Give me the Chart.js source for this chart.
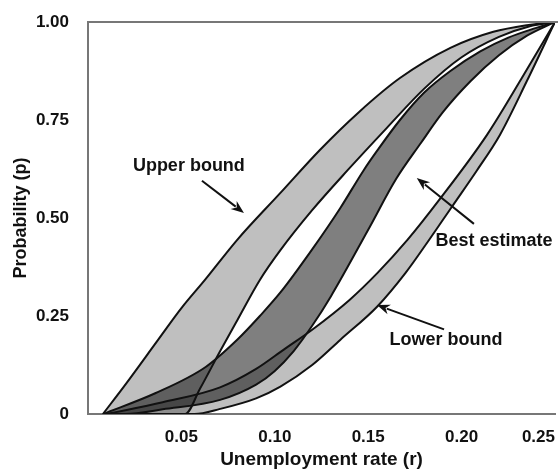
<!DOCTYPE html>
<html lang="en">
<head>
  <meta charset="UTF-8" />
  <title>Probability vs unemployment rate</title>
  <script src="https://cdn.jsdelivr.net/npm/chart.js"></script>
  <style>
    body { margin: 0; background: #fff; }
    canvas { display: block; }
  </style>
</head>
<body>
  <canvas id="chart" width="558" height="472"></canvas>

  <script>
  // each curve as [r, p] pairs
  const upperBoundLeft = [[0.008,0],[0.02,0.075],[0.0375,0.189],[0.05,0.27],[0.0626,0.342],[0.08,0.445],[0.103,0.564],[0.124,0.673],[0.145,0.77],[0.167,0.857],[0.194,0.934],[0.217,0.975],[0.235,0.992],[0.25,1.0]];
  const upperBoundRight = [[0.008,0],[0.052,0],[0.06,0.065],[0.0707,0.16],[0.08,0.24],[0.092,0.342],[0.103,0.418],[0.12,0.52],[0.139,0.622],[0.16,0.73],[0.18,0.83],[0.2,0.91],[0.22,0.962],[0.237,0.99],[0.25,1.0]];

  const bestLeft = [[0.008,0],[0.036,0.053],[0.063,0.12],[0.08,0.19],[0.092,0.25],[0.103,0.31],[0.12,0.42],[0.135,0.525],[0.1476,0.622],[0.155,0.673],[0.167,0.75],[0.18,0.82],[0.194,0.875],[0.21,0.925],[0.225,0.96],[0.24,0.985],[0.25,1.0]];
  const bestRight = [[0.008,0],[0.02,0],[0.04,0.012],[0.0707,0.036],[0.09,0.075],[0.1,0.11],[0.11,0.16],[0.12,0.225],[0.13,0.3],[0.15,0.47],[0.165,0.6],[0.178,0.69],[0.19,0.77],[0.205,0.85],[0.22,0.915],[0.235,0.965],[0.25,1.0]];

  const lowerBoundLeft = [[0.01,0],[0.04,0.03],[0.0707,0.068],[0.09,0.115],[0.105,0.165],[0.12,0.215],[0.14,0.291],[0.155,0.36],[0.171,0.444],[0.188,0.546],[0.2136,0.712],[0.232,0.855],[0.25,1.0]];
  const lowerBoundRight = [[0.01,0],[0.057,0],[0.0707,0.013],[0.09,0.04],[0.103,0.07],[0.12,0.125],[0.135,0.189],[0.155,0.275],[0.17,0.36],[0.182,0.44],[0.195,0.53],[0.208,0.62],[0.2205,0.712],[0.235,0.85],[0.25,1.0]];

  const xTickLabels = ["", "0.05", "0.10", "0.15", "0.20", "0.25"];
  const yTickLabels = ["0", "0.25", "0.50", "0.75", "1.00"];

  const lightFill = "rgba(0,0,0,0.25)";
  const darkFill = "rgba(0,0,0,0.5)";
  const FONT = "'Liberation Sans', Arial, sans-serif";

  // labels with arrows, in data units
  const notes = [
    { text: "Upper bound", at: [0.054, 0.633], align: "center", from: [0.061, 0.595], to: [0.0835, 0.513] },
    { text: "Best estimate", at: [0.186, 0.44], align: "left", from: [0.2066, 0.485], to: [0.176, 0.602] },
    { text: "Lower bound", at: [0.1917, 0.189], align: "center", from: [0.1906, 0.216], to: [0.1547, 0.278] }
  ];

  function toPoints(arr) {
    return arr.map(([r, p]) => ({ x: r, y: p }));
  }

  function curve(arr, fill, color) {
    return {
      data: toPoints(arr),
      borderColor: "#111",
      borderWidth: 2,
      pointRadius: 0,
      cubicInterpolationMode: "monotone",
      fill: fill,
      backgroundColor: color || "transparent"
    };
  }

  const notesPlugin = {
    id: "notes",
    afterDatasetsDraw(chart) {
      const { ctx, chartArea, scales: { x, y } } = chart;
      ctx.save();
      // top frame line
      ctx.strokeStyle = "#777";
      ctx.lineWidth = 2;
      ctx.beginPath();
      ctx.moveTo(chartArea.left, chartArea.top);
      ctx.lineTo(chart.width, chartArea.top);
      ctx.stroke();

      ctx.font = "bold 18px " + FONT;
      ctx.fillStyle = "#111";
      ctx.textBaseline = "middle";
      notes.forEach(n => {
        ctx.textAlign = n.align;
        ctx.fillText(n.text, x.getPixelForValue(n.at[0]), y.getPixelForValue(n.at[1]));

        const x1 = x.getPixelForValue(n.from[0]), y1 = y.getPixelForValue(n.from[1]);
        const x2 = x.getPixelForValue(n.to[0]), y2 = y.getPixelForValue(n.to[1]);
        const ang = Math.atan2(y2 - y1, x2 - x1);
        const head = 13, half = 5;
        ctx.strokeStyle = "#111";
        ctx.lineWidth = 2;
        ctx.beginPath();
        ctx.moveTo(x1, y1);
        ctx.lineTo(x2 - Math.cos(ang) * head * 0.8, y2 - Math.sin(ang) * head * 0.8);
        ctx.stroke();
        ctx.beginPath();
        ctx.moveTo(x2, y2);
        ctx.lineTo(x2 - Math.cos(ang) * head - Math.sin(ang) * half, y2 - Math.sin(ang) * head + Math.cos(ang) * half);
        ctx.lineTo(x2 - Math.cos(ang) * head * 0.7, y2 - Math.sin(ang) * head * 0.7);
        ctx.lineTo(x2 - Math.cos(ang) * head + Math.sin(ang) * half, y2 - Math.sin(ang) * head - Math.cos(ang) * half);
        ctx.closePath();
        ctx.fill();
      });
      ctx.restore();
    }
  };

  new Chart(document.getElementById("chart"), {
    type: "line",
    data: {
      datasets: [
        curve(upperBoundLeft, false),
        curve(upperBoundRight, "-1", lightFill),
        curve(bestLeft, false),
        curve(bestRight, "-1", darkFill),
        curve(lowerBoundLeft, false),
        curve(lowerBoundRight, "-1", lightFill)
      ]
    },
    options: {
      responsive: false,
      animation: false,
      layout: { padding: { top: 22, right: 3, left: 0, bottom: 0 } },
      plugins: {
        legend: { display: false },
        tooltip: { enabled: false },
        filler: { drawTime: "beforeDatasetsDraw" }
      },
      scales: {
        x: {
          type: "linear",
          min: 0,
          max: 0.25,
          grid: { display: false },
          border: { color: "#777", width: 2 },
          ticks: {
            stepSize: 0.05,
            align: "inner",
            padding: 5,
            color: "#111",
            font: { family: FONT, size: 17, weight: "bold" },
            callback: (v, i) => xTickLabels[i]
          },
          title: {
            display: true,
            text: "Unemployment rate (r)",
            color: "#111",
            padding: { top: 0, bottom: 1 },
            font: { family: FONT, size: 19, weight: "bold" }
          },
          afterFit: s => { s.height = 58; s.paddingRight = 0; s.paddingLeft = 0; }
        },
        y: {
          min: 0,
          max: 1,
          grid: { display: false },
          border: { color: "#777", width: 2 },
          ticks: {
            stepSize: 0.25,
            padding: 11,
            color: "#111",
            font: { family: FONT, size: 17, weight: "bold" },
            callback: (v, i) => yTickLabels[i]
          },
          title: {
            display: true,
            text: "Probability (p)",
            color: "#111",
            padding: { top: 10, bottom: 0 },
            font: { family: FONT, size: 18, weight: "bold" }
          },
          afterFit: s => { s.width = 88; }
        }
      }
    },
    plugins: [notesPlugin]
  });
  </script>
</body>
</html>
